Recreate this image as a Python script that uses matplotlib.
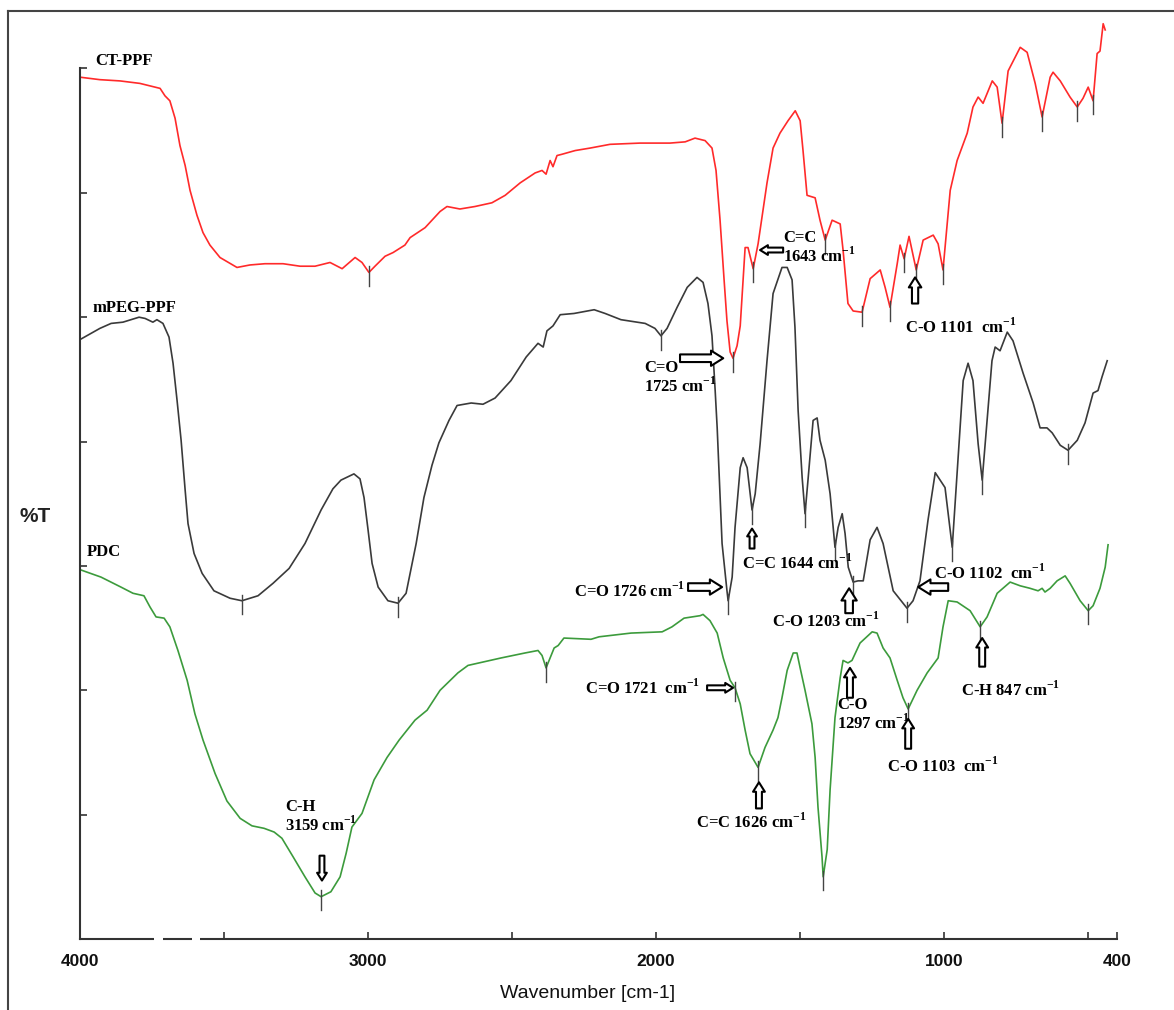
import numpy as np
import matplotlib
matplotlib.use('Agg')
import matplotlib.pyplot as plt
from matplotlib.lines import Line2D

plt.rcParams['mathtext.fontset'] = 'custom'
plt.rcParams['mathtext.rm'] = 'Liberation Serif'
plt.rcParams['mathtext.bf'] = 'Liberation Serif:bold'

# CT-PPF (red)
ct_wn = [4000, 3931, 3861, 3792, 3722, 3705, 3688, 3670, 3653, 3635,
         3618, 3594, 3573, 3549, 3514, 3455, 3410, 3358, 3295, 3236,
         3184, 3132, 3090, 3045, 3021, 2997, 2976, 2941, 2913, 2872,
         2854, 2802, 2750, 2726, 2681, 2629, 2570, 2524, 2472, 2420,
         2396, 2382, 2368, 2358, 2344, 2327, 2281, 2229, 2160, 2056,
         1952, 1899, 1865, 1830, 1806, 1792, 1778, 1764, 1754, 1743,
         1733, 1719, 1708, 1691, 1681, 1663, 1646, 1615, 1594, 1570,
         1542, 1517, 1500, 1490, 1476, 1448, 1431, 1413, 1389, 1361,
         1351, 1334, 1316, 1285, 1257, 1222, 1205, 1188, 1163, 1153,
         1139, 1122, 1097, 1073, 1038, 1021, 1004, 979, 955, 920,
         900, 882, 865, 833, 816, 799, 778, 736, 712, 684,
         660, 632, 622, 597, 563, 538, 518, 500, 483, 469,
         459, 448, 441]
ct_t = [69.3, 69.1, 69.0, 68.8, 68.4, 67.8, 67.4, 66.0, 63.8, 62.2,
        60.2, 58.2, 56.8, 55.8, 54.8, 54.0, 54.2, 54.3, 54.3, 54.1,
        54.1, 54.4, 53.9, 54.8, 54.4, 53.6, 54.1, 54.9, 55.2, 55.8,
        56.4, 57.2, 58.5, 58.9, 58.7, 58.9, 59.2, 59.8, 60.8, 61.6,
        61.8, 61.5, 62.6, 62.1, 63.0, 63.1, 63.4, 63.6, 63.9, 64.0,
        64.0, 64.1, 64.4, 64.2, 63.6, 61.8, 57.8, 53.0, 49.7, 47.2,
        46.7, 47.7, 49.3, 55.6, 55.6, 53.9, 55.9, 60.8, 63.6, 64.8,
        65.8, 66.6, 65.8, 63.4, 59.8, 59.6, 57.8, 56.2, 57.8, 57.5,
        55.4, 51.1, 50.5, 50.4, 53.1, 53.8, 52.4, 50.8, 54.3, 55.8,
        54.7, 56.5, 53.8, 56.2, 56.6, 55.9, 53.8, 60.2, 62.6, 64.8,
        66.9, 67.7, 67.2, 69.0, 68.5, 65.6, 69.8, 71.7, 71.3, 68.8,
        66.1, 69.3, 69.7, 69.0, 67.7, 66.9, 67.6, 68.5, 67.4, 71.2,
        71.4, 73.6, 73.1]
ct_peaks = [2997, 1733, 1663, 1413, 1285, 1188, 1139, 1097, 1004, 799, 660, 538, 483]

# mPEG-PPF (black)
mp_wn = [4000, 3931, 3892, 3851, 3795, 3774, 3747, 3733, 3712, 3691,
         3677, 3663, 3649, 3635, 3625, 3604, 3576, 3535, 3479, 3438,
         3382, 3330, 3274, 3219, 3163, 3122, 3094, 3049, 3028, 3014,
         3000, 2986, 2965, 2931, 2896, 2868, 2854, 2833, 2806, 2778,
         2754, 2719, 2691, 2642, 2601, 2559, 2504, 2451, 2410, 2392,
         2379, 2358, 2333, 2285, 2215, 2177, 2122, 2038, 2004, 1983,
         1962, 1927, 1892, 1858, 1837, 1820, 1806, 1795, 1788, 1771,
         1754, 1750, 1736, 1726, 1708, 1698, 1684, 1667, 1656, 1639,
         1615, 1594, 1563, 1545, 1528, 1518, 1507, 1493, 1483, 1472,
         1455, 1441, 1431, 1413, 1396, 1379, 1368, 1354, 1344, 1333,
         1316, 1299, 1281, 1257, 1233, 1212, 1177, 1129, 1108, 1084,
         1056, 1031, 1014, 997, 972, 952, 934, 917, 900, 882,
         868, 851, 834, 823, 806, 781, 761, 726, 691, 667,
         643, 625, 597, 570, 538, 511, 483, 466, 452, 434]
mp_t = [48.2, 49.1, 49.5, 49.6, 50.0, 49.9, 49.6, 49.8, 49.5, 48.4,
        46.3, 43.3, 40.1, 36.1, 33.4, 31.0, 29.4, 28.0, 27.4, 27.2,
        27.6, 28.6, 29.8, 31.8, 34.5, 36.2, 36.9, 37.4, 37.0, 35.5,
        32.9, 30.2, 28.3, 27.2, 27.0, 27.8, 29.4, 31.8, 35.5, 38.1,
        39.9, 41.7, 42.9, 43.1, 43.0, 43.5, 44.9, 46.8, 47.9, 47.6,
        48.9, 49.3, 50.2, 50.3, 50.6, 50.3, 49.8, 49.5, 49.1, 48.5,
        49.1, 50.8, 52.4, 53.2, 52.8, 51.1, 48.5, 44.1, 41.1, 31.8,
        28.0, 27.2, 29.1, 33.1, 37.9, 38.7, 37.9, 34.5, 35.8, 39.8,
        46.5, 51.9, 54.0, 54.0, 53.0, 49.2, 42.5, 37.1, 34.2, 37.1,
        41.7, 41.9, 40.1, 38.5, 35.8, 31.5, 33.1, 34.2, 32.6, 29.9,
        28.7, 28.8, 28.8, 32.1, 33.1, 31.8, 28.0, 26.6, 27.2, 28.8,
        33.7, 37.5, 36.9, 36.3, 31.5, 38.5, 44.9, 46.3, 44.9, 39.8,
        36.9, 41.7, 46.5, 47.6, 47.3, 48.8, 48.1, 45.5, 43.1, 41.1,
        41.1, 40.7, 39.7, 39.3, 40.1, 41.5, 43.9, 44.1, 45.2, 46.5]
mp_peaks = [3438, 2896, 1983, 1750, 1667, 1483, 1379, 1316, 1129, 972, 868, 570]

# PDC (green)
pdc_wn = [4000, 3927, 3858, 3816, 3778, 3757, 3736, 3708, 3688, 3660,
          3628, 3601, 3573, 3531, 3490, 3444, 3403, 3361, 3326, 3299,
          3260, 3219, 3184, 3163, 3129, 3097, 3076, 3056, 3021, 2979,
          2934, 2892, 2837, 2795, 2750, 2688, 2653, 2538, 2455, 2410,
          2396, 2382, 2368, 2354, 2340, 2320, 2226, 2198, 2087, 1979,
          1945, 1903, 1847, 1837, 1813, 1788, 1767, 1743, 1726, 1708,
          1691, 1674, 1646, 1622, 1594, 1577, 1563, 1545, 1524, 1511,
          1500, 1483, 1459, 1448, 1438, 1424, 1420, 1406, 1396, 1379,
          1361, 1351, 1334, 1320, 1292, 1250, 1233, 1212, 1188, 1163,
          1143, 1125, 1094, 1059, 1021, 1004, 986, 955, 910, 875,
          851, 816, 771, 736, 702, 674, 660, 650, 632, 608,
          580, 563, 528, 500, 483, 459, 441, 431]
pdc_t = [29.7, 29.1, 28.3, 27.8, 27.6, 26.7, 25.9, 25.8, 25.1, 23.2,
         20.8, 18.1, 16.0, 13.3, 11.1, 9.7, 9.1, 8.9, 8.6, 8.1,
         6.6, 5.0, 3.7, 3.4, 3.8, 5.0, 6.9, 9.0, 10.1, 12.8,
         14.6, 16.0, 17.6, 18.4, 20.0, 21.4, 22.0, 22.6, 23.0, 23.2,
         22.8, 21.8, 22.6, 23.4, 23.6, 24.2, 24.1, 24.3, 24.6, 24.7,
         25.1, 25.8, 26.0, 26.1, 25.6, 24.6, 22.6, 20.8, 20.2, 18.9,
         16.8, 14.9, 13.8, 15.4, 16.8, 17.8, 19.4, 21.6, 23.0, 23.0,
         21.8, 20.0, 17.3, 14.6, 10.6, 6.6, 5.0, 7.2, 12.0, 17.8,
         21.0, 22.4, 22.2, 22.4, 23.8, 24.7, 24.6, 23.4, 22.6, 20.8,
         19.4, 18.5, 20.0, 21.4, 22.6, 25.1, 27.2, 27.1, 26.4, 25.1,
         25.9, 27.8, 28.7, 28.4, 28.2, 28.0, 28.2, 27.9, 28.2, 28.8,
         29.2, 28.6, 27.2, 26.4, 26.8, 28.2, 29.9, 31.7]
pdc_peaks = [3163, 2382, 1726, 1646, 1420, 1125, 875, 500]

xticks = [4000, 3500, 3000, 2500, 2000, 1500, 1000, 500, 400]
xticklabels = ['4000', '', '3000', '', '2000', '', '1000', '', '400']

fig = plt.figure(figsize=(11.74, 10.10), dpi=100)
ax = fig.add_axes([80/1174, 1-939/1010, 1037/1174, 924/1010])

series = [(ct_wn, ct_t, ct_peaks, '#ff2a2a'),
          (mp_wn, mp_t, mp_peaks, '#3a3a3a'),
          (pdc_wn, pdc_t, pdc_peaks, '#3c9b3c')]
for wn, t, peaks, col in series:
    ax.plot(wn, t, color=col, lw=1.2)
    # peak markers
    for p in peaks:
        v = np.interp(p, wn[::-1], t[::-1])
        ax.plot([p, p], [v + 0.5, v - 1.1], color='#444444', lw=1.0)

ax.set_xlim(4000, 400)
ax.set_ylim(0, 74.3)
ax.spines['top'].set_visible(False)
ax.spines['right'].set_visible(False)
ax.spines['left'].set_bounds(0, 70)
ax.spines['left'].set_color('#333333')
ax.spines['bottom'].set_color('#333333')
ax.spines['left'].set_linewidth(1.5)
ax.spines['bottom'].set_linewidth(1.5)
ax.set_yticks([10, 20, 30, 40, 50, 60, 70])
ax.set_yticklabels([])
ax.set_xticks(xticks)
ax.set_xticklabels(xticklabels, fontsize=12.5, family='Liberation Sans', fontweight='bold')
ax.tick_params(direction='in', length=5, width=1.2, colors='#333333', labelcolor='#111111')
ax.tick_params(axis='x', pad=11)

# small gaps in the wavenumber axis
for a, b in [(3743, 3712), (3611, 3583)]:
    ax.plot([a, b], [0, 0], color='white', lw=3, solid_capstyle='butt', clip_on=False, zorder=5)

fig.text(588/1174, 1-993/1010, 'Wavenumber [cm-1]', ha='center', va='center',
         fontsize=14, family='Liberation Sans', color='#111111')
fig.text(35/1174, 1-517/1010, '%T', ha='center', va='center', fontsize=15,
         family='Liberation Sans', fontweight='bold', color='#222222')

# frame
fig.add_artist(Line2D([8/1174, 8/1174], [0, 1-11/1010], color='#444444', lw=1.5))
fig.add_artist(Line2D([8/1174, 1], [1-11/1010, 1-11/1010], color='#444444', lw=1.5))

tf = dict(family='Liberation Serif', fontweight='bold', fontsize=12, va='center')
cm = r'cm$^{\mathbf{-1}}$'

ax.text(3948, 70.6, 'CT-PPF', **tf)
ax.text(3958, 50.7, 'mPEG-PPF', **tf)
ax.text(3976, 31.1, 'PDC', **tf)

notes = [
    (1559, 55.6, 'C=C\n1643 ' + cm, 'left'),
    (2042, 45.1, 'C=O\n1725 ' + cm, 'left'),
    (1136, 49.2, 'C-O 1101  ' + cm, 'left'),
    (1702, 30.2, 'C=C 1644 ' + cm, 'left'),
    (1899, 28.0, 'C=O 1726 ' + cm, 'right'),
    (1597, 25.6, 'C-O 1203 ' + cm, 'left'),
    (1035, 29.4, 'C-O 1102  ' + cm, 'left'),
    (1847, 20.2, 'C=O 1721  ' + cm, 'right'),
    (1861, 9.4, 'C=C 1626 ' + cm, 'left'),
    (1372, 18.0, 'C-O\n1297 ' + cm, 'left'),
    (1198, 13.9, 'C-O 1103  ' + cm, 'left'),
    (941, 20.0, 'C-H 847 ' + cm, 'left'),
    (3288, 9.8, 'C-H\n3159 ' + cm, 'left'),
]
for x, y, s, ha in notes:
    ax.text(x, y, s, ha=ha, linespacing=1.05, **tf)

# hollow block arrows: tail, tip, size
arrows = [
    ((1559, 55.4), (1639, 55.4), 7),
    ((1917, 46.7), (1767, 46.7), 11),
    ((1101, 51.1), (1101, 53.2), 9),
    ((1667, 31.4), (1667, 33.0), 7),
    ((1889, 28.3), (1771, 28.3), 11),
    ((1330, 26.2), (1330, 28.2), 11),
    ((986, 28.3), (1090, 28.3), 11),
    ((1823, 20.2), (1733, 20.2), 7),
    ((1643, 10.5), (1643, 12.6), 8.5),
    ((1327, 19.4), (1327, 21.8), 8.5),
    ((1125, 15.3), (1125, 17.7), 8.5),
    ((868, 21.9), (868, 24.2), 8.5),
    ((3160, 6.7), (3160, 4.7), 7),
]
for tail, tip, sz in arrows:
    ax.annotate('', xy=tip, xytext=tail,
                arrowprops=dict(arrowstyle='simple,head_length=0.8,head_width=1.0,tail_width=0.5',
                                fc='white', ec='black', lw=1.5, shrinkA=0, shrinkB=0,
                                mutation_scale=sz))

fig.savefig('out.png', dpi=100)
